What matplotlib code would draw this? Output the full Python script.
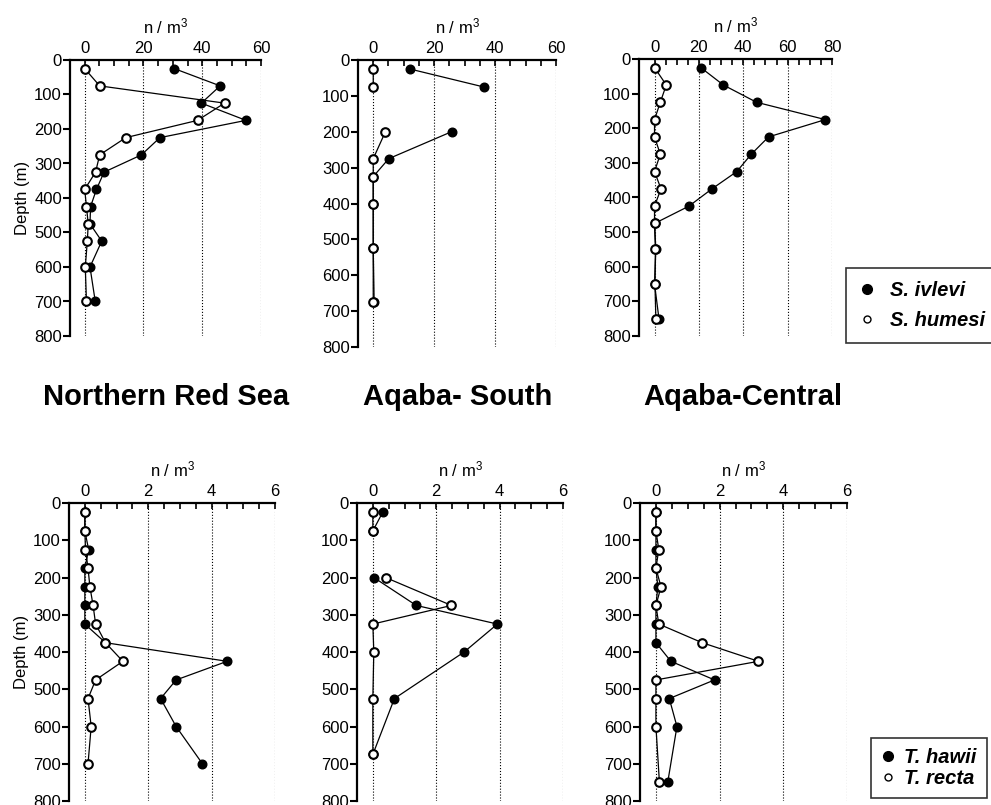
import numpy as np
import matplotlib.pyplot as plt
from matplotlib.lines import Line2D

plt.rcParams.update({
    "font.family": ["Liberation Sans", "DejaVu Sans"],
    "font.size": 12,
    "mathtext.fontset": "custom",
    "mathtext.rm": "Liberation Sans",
    "mathtext.it": "Liberation Sans:italic",
    "mathtext.bf": "Liberation Sans:bold",
})

nan = np.nan

# sampling depths (m); nan rows = no sample (line gap)
nrs_depth = [25, 75, 125, 175, 225, 275, 325, 375, 425, 475, 525, 600, 700]
aqs_depth = [25, 75, 125, 200, 275, 325, 400, 525, 675]
aqc_depth_top = [25, 75, 125, 175, 225, 275, 325, 375, 425, 475, 550, 650, 750]
aqc_depth_bot = [25, 75, 125, 175, 225, 275, 325, 375, 425, 475, 525, 600, 750]

# S. ivlevi (filled) / S. humesi (open), n / m3
nrs_ivlevi = [30.5, 46.1, 39.7, 54.9, 25.6, 19.3, 6.6, 4.0, 2.0, 1.8, 5.8, 1.8, 3.6]
nrs_humesi = [0, 5.1, 47.6, 38.4, 14.0, 5.1, 3.7, 0, 0.6, 1.2, 0.9, 0.2, 0.6]
aqs_ivlevi = [12.0, 36.2, nan, 25.7, 5.1, 0, 0, 0, 0.3]
aqs_humesi = [0, 0, nan, 4.0, 0, 0, 0, 0, 0]
aqc_ivlevi = [20.9, 31.0, 46.0, 77.0, 51.4, 43.6, 37.1, 25.9, 15.5, 0, 0.6, 0, 2.0]
aqc_humesi = [0, 5.3, 2.6, 0, 0, 2.6, 0, 2.9, 0, 0, 0.4, 0.2, 0.6]

# T. hawii (filled) / T. recta (open), n / m3
nrs_hawii = [0, 0, 0.12, 0, 0, 0, 0, 0.65, 4.49, 2.88, 2.39, 2.88, 3.71]
nrs_recta = [0, 0, 0.02, 0.1, 0.16, 0.26, 0.34, 0.65, 1.2, 0.34, 0.1, 0.2, 0.1]
aqs_hawii = [0.31, 0, nan, 0.03, 1.37, 3.93, 2.88, 0.68, 0]
aqs_recta = [0, 0, nan, 0.4, 2.48, 0, 0.03, 0, 0]
aqc_hawii = [0, 0, 0, 0, 0.06, 0, 0, 0, 0.47, 1.84, 0.42, 0.66, 0.37]
aqc_recta = [0, 0, 0.09, 0, 0.16, 0, 0.09, 1.45, 3.22, 0, 0, 0, 0.11]

titles = ["Northern Red Sea", "Aqaba- South", "Aqaba-Central"]

W, H = 991, 805
fig = plt.figure(figsize=(W / 100, H / 100), dpi=100)


def px_axes(left, top, right, bottom):
    return fig.add_axes([left / W, 1 - bottom / H, (right - left) / W, (bottom - top) / H])


def panel(rect, depth, filled, opened, xlim, xmax_tick, major, minor, ylabel):
    ax = px_axes(*rect)
    ax.plot(filled, depth, "-o", color="k", lw=0.9, ms=6.2, mfc="k", mec="k", mew=1, zorder=3)
    ax.plot(opened, depth, "-o", color="k", lw=0.9, ms=6.2, mfc="white", mec="k", mew=1.5, zorder=4)
    ax.set_xlim(xlim, xmax_tick)
    ax.set_ylim(800, 0)
    ax.set_xticks(np.arange(0, xmax_tick + major / 2, major))
    ax.set_xticks(np.arange(0, xmax_tick + minor / 2, minor), minor=True)
    ax.set_yticks(np.arange(0, 801, 100))
    ax.xaxis.tick_top()
    ax.xaxis.set_label_position("top")
    ax.set_xlabel(r"n / m$^{\mathregular{3}}$", labelpad=5)
    ax.tick_params(axis="x", which="both", direction="in", length=4, width=1.2, pad=3)
    ax.tick_params(axis="y", direction="out", length=5, width=1.5, pad=0.8)
    for s in ["right", "bottom"]:
        ax.spines[s].set_visible(False)
    for s in ["top", "left"]:
        ax.spines[s].set_linewidth(1.6)
    ax.grid(axis="x", which="major", linestyle=":", color="k", linewidth=0.8)
    if ylabel:
        ax.set_ylabel("Depth (m)", labelpad=3)
    return ax


panel((70, 60, 261, 336), nrs_depth, nrs_ivlevi, nrs_humesi, -5, 60, 20, 5, True)
panel((358, 60, 556, 347), aqs_depth, aqs_ivlevi, aqs_humesi, -5, 60, 20, 5, False)
panel((639, 59, 832, 336), aqc_depth_top, aqc_ivlevi, aqc_humesi, -7, 80, 20, 5, False)

panel((69, 503, 275, 801), nrs_depth, nrs_hawii, nrs_recta, -0.5, 6, 2, 0.5, True)
panel((357, 503, 563, 801), aqs_depth, aqs_hawii, aqs_recta, -0.5, 6, 2, 0.5, False)
panel((640, 503, 847, 801), aqc_depth_bot, aqc_hawii, aqc_recta, -0.5, 6, 2, 0.5, False)

for xc, t in zip([166, 458, 743], titles):
    fig.text(xc / W, 1 - 397 / H, t, ha="center", va="center", fontsize=21,
             fontweight="bold", family=["Liberation Sans Narrow", "Liberation Sans"])


def legend(labels, x, y, pad, spacing, hlen, tpad):
    handles = [
        Line2D([], [], marker="o", ls="none", mfc="k", mec="k", ms=7),
        Line2D([], [], marker="o", ls="none", mfc="white", mec="k", mew=1, ms=5),
    ]
    leg = fig.legend(handles, labels, loc="upper left", bbox_to_anchor=(x / W, 1 - y / H),
                     frameon=True, fancybox=False, borderaxespad=0, borderpad=pad,
                     labelspacing=spacing, handlelength=hlen, handletextpad=tpad,
                     prop={"weight": "bold", "style": "italic", "size": 14.5})
    leg.get_frame().set_edgecolor("k")
    leg.get_frame().set_linewidth(1.2)
    return leg


legend(["S. ivlevi", "S. humesi"], 846, 268, 0.65, 0.55, 0.75, 0.8)
legend(["T. hawii", "T. recta"], 871, 738, 0.5, 0.1, 0.7, 0.45)

fig.savefig("out.png", dpi=100)
